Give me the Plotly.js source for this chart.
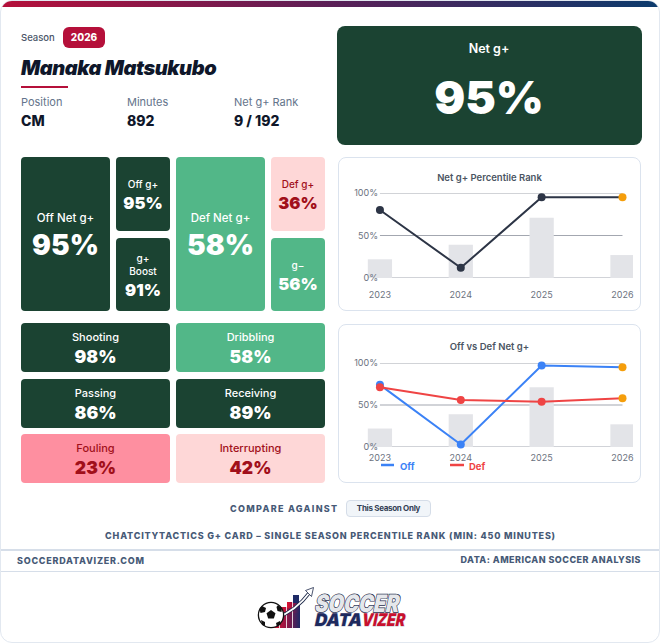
<!DOCTYPE html>
<html><head><meta charset="utf-8">
<script src="https://cdn.plot.ly/plotly-3.0.1.min.js"></script>
<style>
html,body{margin:0;padding:0;background:#fff;}
body{width:660px;height:643px;overflow:hidden;font-family:Inter,'Noto Sans',sans-serif;position:relative;}
#card{position:absolute;left:0;top:0;width:660px;height:643px;box-sizing:border-box;border:1px solid #e2e8f0;border-radius:12px;overflow:hidden;background:#fff;}
.tile{position:absolute;box-sizing:border-box;border-radius:4px;display:flex;flex-direction:column;align-items:center;justify-content:center;text-align:center;}
.panel{position:absolute;box-sizing:border-box;border:1px solid #dbe3ee;border-radius:8px;background:#fff;}
.plot{position:absolute;}
</style></head><body>
<div id="card"></div>
<script>
// ---------- data ----------
const season = '2026';
const playerName = 'Manaka Matsukubo';
const infoLabels = ['Position', 'Minutes', 'Net g+ Rank'];
const infoValues = ['CM', '892', '9 / 192'];
const netGLabel = 'Net g+';
const netGValue = 95;
const tileLabels = ['Off Net g+', 'Off g+', 'g+ Boost', 'Def Net g+', 'Def g+', 'g\u2212'];
const tileValues = [95, 95, 91, 58, 36, 56];
const skillLabels = ['Shooting', 'Dribbling', 'Passing', 'Receiving', 'Fouling', 'Interrupting'];
const skillValues = [98, 58, 86, 89, 23, 42];
const seasons = ['2023', '2024', '2025', '2026'];
const netGHistory = [80, 12, 95, 95];
const offNetHistory = [74, 3, 97, 95];
const defNetHistory = [71, 56, 54, 58];
const barHistory = [22, 39, 71, 27];
const yTickVals = [0, 50, 100];
const chart1Title = 'Net g+ Percentile Rank';
const chart2Title = 'Off vs Def Net g+';
const seriesNames = ['Off', 'Def'];
const compareLabel = 'COMPARE AGAINST';
const compareOption = 'This Season Only';
const footNote = 'CHATCITYTACTICS G+ CARD \u2013 SINGLE SEASON PERCENTILE RANK (MIN: 450 MINUTES)';
const siteLabel = 'SOCCERDATAVIZER.COM';
const sourceLabel = 'DATA: AMERICAN SOCCER ANALYSIS';
const logoWords = ['SOCCER', 'DATA', 'VIZER'];

// ---------- helpers ----------
const card = document.getElementById('card');
function add(css, html, cls) {
  const e = document.createElement('div');
  if (cls) e.className = cls;
  e.style.cssText = css;
  if (html !== undefined) e.innerHTML = html;
  card.appendChild(e);
  return e;
}
function text(str, x, cy, size, weight, color, extra) {
  const lh = Math.round(size * 1.25);
  return add(`position:absolute;left:${x}px;top:${cy - lh / 2}px;line-height:${lh}px;font-size:${size}px;font-weight:${weight};color:${color};white-space:nowrap;${extra || ''}`, str);
}
function ctext(str, cx, cy, size, weight, color, extra) {
  const lh = Math.round(size * 1.25);
  return add(`position:absolute;left:${cx - 300}px;width:600px;text-align:center;top:${cy - lh / 2}px;line-height:${lh}px;font-size:${size}px;font-weight:${weight};color:${color};white-space:nowrap;${extra || ''}`, str);
}
function tileStyle(v) {
  if (v >= 80) return { bg: '#1b4332', fg: '#ffffff' };
  if (v >= 50) return { bg: '#52b788', fg: '#ffffff' };
  if (v >= 30) return { bg: '#fed7d7', fg: '#a10f1a' };
  return { bg: '#fe8fa0', fg: '#a10f1a' };
}

// ---------- header ----------
add('position:absolute;left:0;top:0;width:660px;height:6px;background:linear-gradient(90deg,#b5103a 0%,#5b1f57 50%,#0b3b6d 100%);');
text('Season', 20, 37, 9.5, 500, '#4a5568');
add('position:absolute;left:62px;top:26px;width:42px;height:21px;border-radius:6px;background:#b5103a;color:#fff;font-size:10px;font-weight:800;line-height:21px;text-align:center;', season);
text(playerName, 20, 67, 20, 900, '#0f172a', 'font-style:italic;letter-spacing:-0.4px;');
add('position:absolute;left:20px;top:85px;width:47px;height:2px;background:#b5103a;');
const infoX = [20, 126, 233];
infoLabels.forEach((l, i) => {
  text(l, infoX[i], 101, 11, 400, '#64748b');
  text(infoValues[i], infoX[i], 120, 14, 800, '#0f172a');
});

// Net g+ card
add('position:absolute;left:336px;top:25px;width:305px;height:119px;border-radius:8px;background:' + tileStyle(netGValue).bg + ';');
ctext(netGLabel, 488, 47.5, 12.5, 600, '#fff');
ctext(netGValue + '%', 488, 96, 46, 900, '#fff');

// ---------- tiles ----------
const tileBoxes = [[20, 156, 89, 154], [115, 156, 54, 74], [115, 237, 54, 73], [175, 156, 89, 154], [270, 156, 54, 74], [270, 237, 54, 73]];
function tile(label, value, box, ls, vs, gap, pad) {
  const st = tileStyle(value);
  add(`left:${box[0]}px;top:${box[1]}px;width:${box[2]}px;height:${box[3]}px;background:${st.bg};color:${st.fg};padding:${pad}px 8px 0 8px;`,
    `<div style="font-size:${ls}px;line-height:${ls + 3}px;font-weight:500;">${label}</div>` +
    `<div style="font-size:${vs}px;line-height:${vs + 2}px;font-weight:900;margin-top:${gap}px;">${value}%</div>`, 'tile');
}
tileLabels.forEach((l, i) => {
  const big = tileBoxes[i][2] > 60;
  tile(l, tileValues[i], tileBoxes[i], big ? 11.5 : 10, big ? 28 : 16.5, big ? 4 : 3, 3);
});
const skillCols = [20, 175], skillRows = [322, 378, 433];
skillLabels.forEach((l, i) => {
  tile(l, skillValues[i], [skillCols[i % 2], skillRows[Math.floor(i / 2)], 149, 49], 11, 17.5, 3, 2);
});

// ---------- chart panels ----------
const p1 = { left: 337, top: 156, w: 303, h: 154, m: { l: 29, r: 8, t: 36, b: 33 } };
const p2 = { left: 337, top: 323, w: 303, h: 159, m: { l: 29, r: 8, t: 39, b: 36 } };
[p1, p2].forEach(p => {
  add(`left:${p.left}px;top:${p.top}px;width:${p.w}px;height:${p.h}px;`, '', 'panel');
  p.div = add(`left:${p.left}px;top:${p.top}px;width:${p.w}px;height:${p.h}px;`, '', 'plot');
});

const lastIdx = seasons.length - 1;
const orange = '#f59e0b';
function markerColors(base) { return seasons.map((s, i) => i === lastIdx ? orange : base); }
function gridShapes() {
  return yTickVals.map(v => ({ type: 'line', xref: 'x', yref: 'y', x0: 0, x1: lastIdx, y0: v, y1: v, layer: 'below', line: { color: '#a3a7b0', width: 1 } }));
}
function baseLayout(p, title, titleCy, xStandoff) {
  return {
    width: p.w, height: p.h, margin: p.m,
    paper_bgcolor: 'rgba(0,0,0,0)', plot_bgcolor: 'rgba(0,0,0,0)',
    font: { family: 'Inter, Noto Sans, sans-serif', color: '#6b7280' },
    showlegend: false,
    title: { text: title, x: 0.5, xref: 'container', xanchor: 'center', y: 1 - titleCy / p.h, yref: 'container', yanchor: 'middle', font: { size: 9.5, color: '#4b5563', weight: 600 } },
    xaxis: { type: 'category', range: [-0.16, lastIdx + 0.13], showgrid: false, zeroline: false, showline: false, ticks: '', tickfont: { size: 9, color: '#6b7280' }, ticklabelstandoff: xStandoff, fixedrange: true },
    yaxis: { range: [0, 100], showgrid: false, zeroline: false, showline: false, ticks: '', tickvals: yTickVals, ticktext: yTickVals.map(v => v + '%'), tickfont: { size: 9, color: '#6b7280' }, ticklabelstandoff: -12, fixedrange: true },
    shapes: gridShapes(),
    annotations: []
  };
}
const barTrace = { type: 'bar', x: seasons, y: barHistory, width: 0.3, marker: { color: '#e3e4e8' }, hoverinfo: 'skip' };

// chart 1
const l1 = baseLayout(p1, chart1Title, 20.7, 10);
Plotly.newPlot(p1.div, [
  barTrace,
  { type: 'scatter', mode: 'lines+markers', x: seasons, y: netGHistory, line: { color: '#2d3546', width: 2 }, marker: { size: 8, color: markerColors('#2d3546') }, cliponaxis: false }
], l1, { staticPlot: true, displayModeBar: false });

// chart 2
const l2 = baseLayout(p2, chart2Title, 22.7, 4);
const plotW2 = p2.w - p2.m.l - p2.m.r, plotH2 = p2.h - p2.m.t - p2.m.b;
const toPX = ax => (ax - p2.left - p2.m.l) / plotW2;
const toPY = ay => (p2.top + p2.h - p2.m.b - ay) / plotH2;
const seriesColors = ['#3b82f6', '#ef4444'];
const legendPos = [[380, 393, 397], [449, 463, 466]];
seriesNames.forEach((n, i) => {
  const lp = legendPos[i];
  l2.shapes.push({ type: 'line', xref: 'paper', yref: 'paper', x0: toPX(lp[0]), x1: toPX(lp[1]), y0: toPY(464), y1: toPY(464), line: { color: seriesColors[i], width: 2.5 } });
  l2.annotations.push({ xref: 'paper', yref: 'paper', x: toPX(lp[2]), y: toPY(465), xanchor: 'left', yanchor: 'middle', showarrow: false, text: n, font: { size: 9.5, weight: 700, color: seriesColors[i] } });
});
Plotly.newPlot(p2.div, [
  barTrace,
  { type: 'scatter', mode: 'lines+markers', name: seriesNames[0], x: seasons, y: offNetHistory, line: { color: seriesColors[0], width: 2 }, marker: { size: 8, color: markerColors(seriesColors[0]) }, cliponaxis: false },
  { type: 'scatter', mode: 'lines+markers', name: seriesNames[1], x: seasons, y: defNetHistory, line: { color: seriesColors[1], width: 2 }, marker: { size: 8, color: markerColors(seriesColors[1]) }, cliponaxis: false }
], l2, { staticPlot: true, displayModeBar: false });

// ---------- footer ----------
const footColor = '#475a77';
text(compareLabel, 229, 507, 9, 800, footColor, 'letter-spacing:1.3px;');
add('position:absolute;left:345px;top:499px;width:85px;height:17px;box-sizing:border-box;border:1px solid #d5dde8;border-radius:4px;background:#f1f5f9;color:#334155;font-size:8px;font-weight:700;line-height:15px;text-align:center;letter-spacing:-0.3px;', compareOption);
ctext(footNote, 329.5, 534, 9, 800, footColor, 'letter-spacing:0.8px;');
add('position:absolute;left:0;top:548px;width:660px;height:1.5px;background:#d6dee9;');
add('position:absolute;left:0;top:569.5px;width:660px;height:1.5px;background:#d6dee9;');
text(siteLabel, 16, 559, 9, 800, footColor, 'letter-spacing:0.75px;');
add(`position:absolute;right:18px;top:${559 - 6}px;line-height:12px;font-size:9px;font-weight:800;color:${footColor};letter-spacing:0.45px;white-space:nowrap;`, sourceLabel);

// logo (svg origin at page 245,578; inner group offset so that logo box starts at page 255,586)
add('position:absolute;left:235px;top:574px;width:190px;height:66px;',
`<svg width="190" height="66" viewBox="0 0 190 66" xmlns="http://www.w3.org/2000/svg">
 <defs>
  <linearGradient id="barg" x1="0" x2="1" y1="0" y2="0"><stop offset="0" stop-color="#e0112f"/><stop offset="0.55" stop-color="#8a1748"/><stop offset="1" stop-color="#1e2a66"/></linearGradient>
 </defs>
 <g transform="translate(20,12)">
  <rect x="17" y="25" width="27" height="16" fill="url(#barg)"/>
  <rect x="24" y="20" width="20" height="6" fill="url(#barg)"/>
  <rect x="31" y="15" width="13" height="6" fill="url(#barg)"/>
  <rect x="37" y="8" width="6" height="8" fill="#1e2a66"/>
  <line x1="23.5" y1="20" x2="23.5" y2="41" stroke="#fff" stroke-width="0.8"/>
  <line x1="30.5" y1="15" x2="30.5" y2="41" stroke="#fff" stroke-width="0.8"/>
  <line x1="36.5" y1="8" x2="36.5" y2="41" stroke="#fff" stroke-width="0.8"/>
  <path d="M20 31 Q 40 24 54 5" fill="none" stroke="#1e2a4a" stroke-width="3.6"/>
  <path d="M20 31 Q 40 24 54 5" fill="none" stroke="#fff" stroke-width="1.8"/>
  <polygon points="57.5,0.5 49.5,3.5 55.5,9.5" fill="#fff" stroke="#1e2a4a" stroke-width="0.8"/>
  <circle cx="15" cy="28" r="12.6" fill="#fff" stroke="#111" stroke-width="1.3"/>
  <polygon points="15,23 19.5,26.3 17.8,31.5 12.2,31.5 10.5,26.3" fill="#111"/>
  <path d="M6 19 L10 21 L9 25 L4.5 26 L3.5 22 Z" fill="#111"/>
  <path d="M22 18 L26 21 L25.5 25 L21.5 24 L20.5 20 Z" fill="#111"/>
  <path d="M5 33 L9 35 L9 39 L6 38 Z" fill="#111"/>
  <path d="M20 36 L24 34 L25 37 L21 40 Z" fill="#111"/>
  <text transform="skewX(-12)" font-family="Inter, sans-serif" font-weight="900" paint-order="stroke">
   <tspan x="63.5" y="25.5" font-size="24" textLength="84" lengthAdjust="spacingAndGlyphs" fill="#e5e7eb" stroke="#1e2a4a" stroke-width="1.4">${logoWords[0]}</tspan>
   <tspan x="66.5" y="39.5" font-size="17.5" textLength="47" lengthAdjust="spacingAndGlyphs" fill="#1e2a5e" stroke="#c9ccd4" stroke-width="0.8">${logoWords[1]}</tspan>
   <tspan x="113.5" y="39.5" font-size="17.5" textLength="43" lengthAdjust="spacingAndGlyphs" fill="#c8102e" stroke="#c9ccd4" stroke-width="0.8">${logoWords[2]}</tspan>
  </text>
 </g>
</svg>`);
</script></body></html>
